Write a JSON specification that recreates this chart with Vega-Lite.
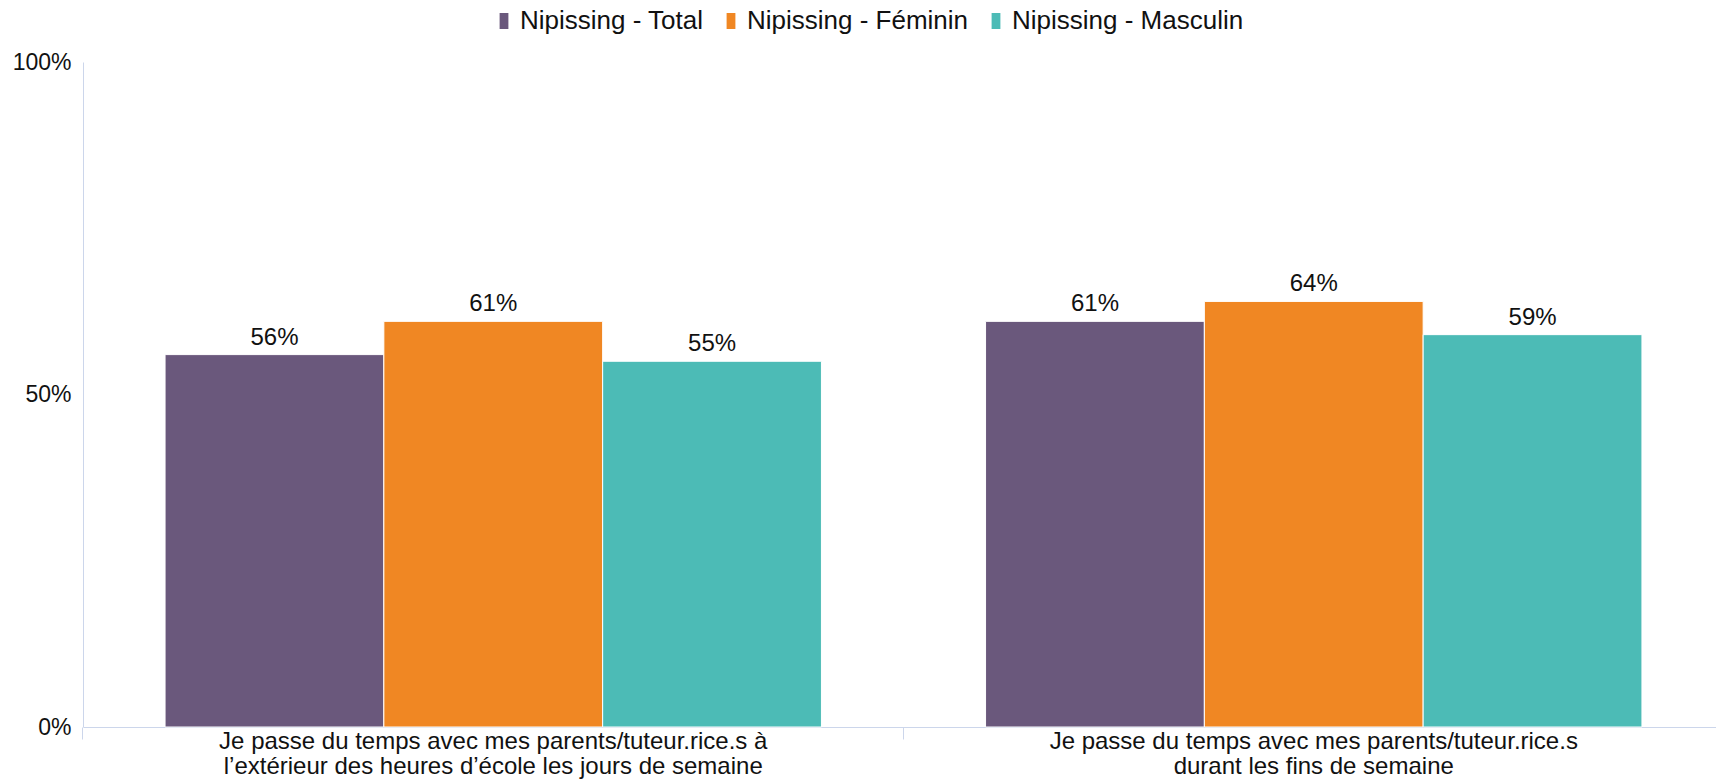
{
  "$schema": "https://vega.github.io/schema/vega-lite/v6.json",
  "width": 1641,
  "height": 665,
  "autosize": {"type": "none"},
  "padding": {"left": 83, "top": 62, "right": 0, "bottom": 53},
  "background": "white",
  "config": {"view": {"stroke": null}, "font": "Liberation Sans"},
  "data": {
    "values": [
      {"question": "Je passe du temps avec mes parents/tuteur.rice.s à\nl’extérieur des heures d’école les jours de semaine", "serie": "Nipissing - Total", "valeur": 0.56},
      {"question": "Je passe du temps avec mes parents/tuteur.rice.s à\nl’extérieur des heures d’école les jours de semaine", "serie": "Nipissing - Féminin", "valeur": 0.61},
      {"question": "Je passe du temps avec mes parents/tuteur.rice.s à\nl’extérieur des heures d’école les jours de semaine", "serie": "Nipissing - Masculin", "valeur": 0.55},
      {"question": "Je passe du temps avec mes parents/tuteur.rice.s\ndurant les fins de semaine", "serie": "Nipissing - Total", "valeur": 0.61},
      {"question": "Je passe du temps avec mes parents/tuteur.rice.s\ndurant les fins de semaine", "serie": "Nipissing - Féminin", "valeur": 0.64},
      {"question": "Je passe du temps avec mes parents/tuteur.rice.s\ndurant les fins de semaine", "serie": "Nipissing - Masculin", "valeur": 0.59}
    ]
  },
  "encoding": {
    "x": {
      "field": "question",
      "type": "nominal",
      "sort": null,
      "scale": {"paddingInner": 0.2, "paddingOuter": 0.1},
      "axis": {
        "title": null,
        "labelExpr": "split(datum.label, '\\n')",
        "bandPosition": -0.125,
        "domainColor": "#ccd6eb",
        "tickColor": "#ccd6eb",
        "tickSize": 12,
        "labelPadding": -10,
        "labelFontSize": 24,
        "labelColor": "#111111",
        "labelAngle": 0,
        "labelLineHeight": 25,
        "labelLimit": 0
      }
    },
    "xOffset": {
      "field": "serie",
      "sort": ["Nipissing - Total", "Nipissing - Féminin", "Nipissing - Masculin"],
      "scale": {"paddingInner": 0, "paddingOuter": 0}
    },
    "y": {
      "field": "valeur",
      "type": "quantitative",
      "scale": {"domain": [0, 1]},
      "axis": {
        "title": null,
        "values": [0, 0.5, 1],
        "format": ".0%",
        "grid": false,
        "ticks": false,
        "domainColor": "#ccd6eb",
        "labelPadding": 12,
        "labelFontSize": 23,
        "labelColor": "#111111"
      }
    }
  },
  "layer": [
    {
      "mark": {"type": "bar", "stroke": "white", "strokeWidth": 1},
      "encoding": {
        "color": {
          "field": "serie",
          "type": "nominal",
          "scale": {
            "domain": ["Nipissing - Total", "Nipissing - Féminin", "Nipissing - Masculin"],
            "range": ["#6a587c", "#f08723", "#4cbbb6"]
          },
          "legend": {
            "title": null,
            "orient": "none",
            "legendX": 408,
            "legendY": -54,
            "direction": "horizontal",
            "symbolType": "M-0.55,-1H0.55V1H-0.55Z",
            "symbolSize": 256,
            "symbolStrokeWidth": 0,
            "labelFontSize": 26,
            "labelColor": "#111111",
            "labelOffset": 3,
            "labelLimit": 0,
            "columnPadding": 14,
            "padding": 0
          }
        }
      }
    },
    {
      "mark": {"type": "text", "baseline": "alphabetic", "dy": -10, "fontSize": 24, "color": "#111111"},
      "encoding": {
        "text": {"field": "valeur", "type": "quantitative", "format": ".0%"}
      }
    }
  ]
}
